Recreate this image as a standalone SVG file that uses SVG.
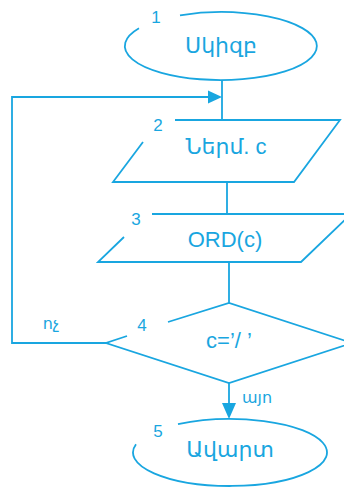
<svg xmlns="http://www.w3.org/2000/svg" width="344" height="487" viewBox="0 0 344 487">
<style>
.s{fill:none;stroke:#19a6e0;stroke-width:1.8}
.t{fill:#19a6e0;font-family:"Liberation Sans","DejaVu Sans","Noto Sans",sans-serif;text-anchor:middle}
.m{font-size:22px}
.n{font-size:17px}
.l{font-size:16px}
.a{fill:#19a6e0}
</style>
<rect width="344" height="487" fill="#fff"/>
<g id="connectors">
<path class="s" d="M222,80 L222,120"/>
<path class="s" d="M227,182 L227,214"/>
<path class="s" d="M229,262 L229,303"/>
<path class="s" d="M229,383 L229,405"/>
<path class="s" d="M106,343 L12,343 L12,97 L210,97"/>
<polygon class="a" points="222,97 208,90.5 208,103.5"/>
<polygon class="a" points="229,419 222,403 236,403"/>
<text class="t l" x="51" y="329">ոչ</text>
<text class="t l" x="257" y="403">այո</text>
</g>
<g id="node1">
<path class="s" d="M180,15.3 A96,34 0 1 1 139,28.3"/>
<text class="t n" x="156" y="23">1</text>
<text class="t m" x="221" y="53">Սկիզբ</text>
</g>
<g id="node2">
<path class="s" d="M175,120 L340,120 L294,182 L113,182 L143,142"/>
<text class="t n" x="158" y="131">2</text>
<text class="t m" x="226" y="154">Ներմ. c</text>
</g>
<g id="node3">
<path class="s" d="M152,214 L351,214 L301,262 L98,262 L124,237"/>
<text class="t n" x="136" y="225">3</text>
<text class="t m" x="225" y="247">ORD(c)</text>
</g>
<g id="node4">
<path class="s" d="M168,322 L229,303 L352,343 L229,383 L106,343 L127,336"/>
<text class="t n" x="142" y="331">4</text>
<text class="t m" x="229" y="348">c=’/ ’</text>
</g>
<g id="node5">
<path class="s" d="M178,424.2 A97,33.5 0 1 1 136,444.2"/>
<text class="t n" x="158" y="437">5</text>
<text class="t m" x="230" y="457">Ավարտ</text>
</g>
</svg>
